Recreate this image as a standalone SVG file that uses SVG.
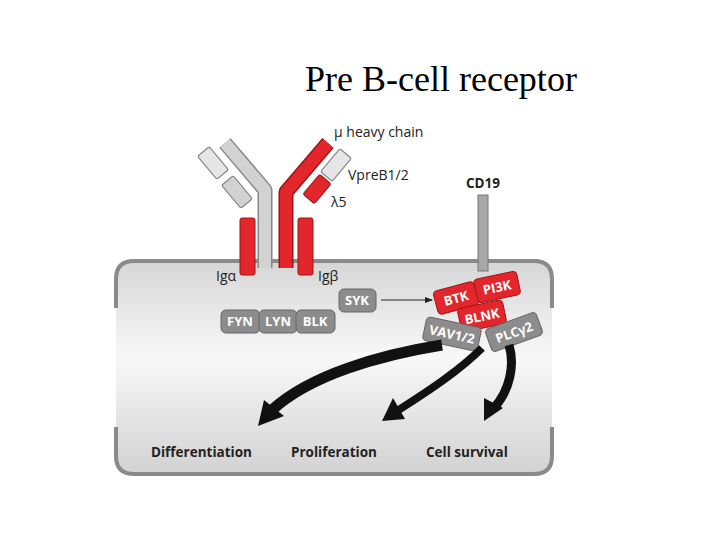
<svg xmlns="http://www.w3.org/2000/svg" width="720" height="540" viewBox="0 0 720 540">
<defs>
<linearGradient id="cg" x1="0" y1="0" x2="0" y2="1">
<stop offset="0" stop-color="#d6d6d6"/><stop offset="0.45" stop-color="#f8f8f8"/><stop offset="1" stop-color="#d2d2d2"/>
</linearGradient>
<marker id="ah" markerWidth="8" markerHeight="8" refX="7" refY="4" orient="auto" markerUnits="userSpaceOnUse"><path d="M0,1 L8,4 L0,7 Z" fill="#222"/></marker>
<style>
.lbl{font-family:"Open Sans","DejaVu Sans",sans-serif;font-size:14px;fill:#222}
.b{font-weight:bold;font-size:13.5px}
.box{fill:#8c8c8c;stroke:#666;stroke-width:1}
.red{fill:#e3262b;stroke:#a01518;stroke-width:1}
.lg{fill:#e6e6e6;stroke:#888;stroke-width:1.2}
.bt{font-family:"Open Sans","DejaVu Sans",sans-serif;font-size:13px;font-weight:bold;fill:#fff;text-anchor:middle}
.big{fill:none;stroke:#111;stroke-linecap:butt}
</style>
</defs>
<text x="305" y="91" font-family="Liberation Serif,serif" font-size="36" fill="#000">Pre B-cell receptor</text>
<g id="cell">
<rect x="116" y="261" width="436" height="213" rx="16" fill="url(#cg)"/>
<path d="M116,308 V279 Q116,261 134,261 H534 Q552,261 552,279 V308" fill="none" stroke="#8a8a8a" stroke-width="4"/>
<path d="M116,427 V456 Q116,474 134,474 H534 Q552,474 552,456 V427" fill="none" stroke="#8a8a8a" stroke-width="4"/>
</g>
<g id="antibody">
<path d="M225,143 L265,190 V268" fill="none" stroke="#888" stroke-width="15" stroke-linejoin="round"/>
<path d="M225,143 L265,190 V268" fill="none" stroke="#d2d2d2" stroke-width="12" stroke-linejoin="round"/>
<path d="M328,143 L286,192 V268" fill="none" stroke="#a01518" stroke-width="15" stroke-linejoin="round"/>
<path d="M328,143 L286,192 V268" fill="none" stroke="#e3262b" stroke-width="12" stroke-linejoin="round"/>
<rect x="-15" y="-7.5" width="30" height="15" rx="2" class="lg" transform="translate(213,163) rotate(50)"/>
<rect x="-15" y="-7.5" width="30" height="15" rx="2" class="lg" style="fill:#d2d2d2" transform="translate(237,192) rotate(50)"/>
<rect x="-15" y="-7.5" width="30" height="15" rx="2" class="lg" transform="translate(336,165) rotate(-50)"/>
<rect x="-13" y="-7.5" width="26" height="15" rx="2" class="red" transform="translate(317,189) rotate(-50)"/>
<rect x="240" y="218" width="15" height="57" rx="2" class="red"/>
<rect x="298" y="218" width="15" height="57" rx="2" class="red"/>
<text x="334" y="137" class="lbl">μ heavy chain</text>
<text x="348" y="180" class="lbl">VpreB1/2</text>
<text x="331" y="207" class="lbl">λ5</text>
<text x="216" y="281" class="lbl">Igα</text>
<text x="318" y="281" class="lbl">Igβ</text>
</g>
<g id="cd19">
<rect x="478" y="195" width="10" height="76" fill="#a8a8a8" stroke="#777"/>
<text x="466" y="188" class="lbl b">CD19</text>
</g>
<g id="kinases">
<rect x="221" y="310" width="39" height="23" rx="5" class="box"/>
<rect x="259" y="310" width="38" height="23" rx="5" class="box"/>
<rect x="296" y="310" width="39" height="23" rx="5" class="box"/>
<text x="240" y="326" class="bt">FYN</text><text x="278" y="326" class="bt">LYN</text><text x="315" y="326" class="bt">BLK</text>
</g>
<g id="syk"><rect x="339" y="289" width="37" height="23" rx="5" class="box"/><text x="357" y="305" class="bt">SYK</text></g>
<g id="complex">
<g transform="translate(497,287) rotate(-12)"><rect x="-22" y="-12" width="44" height="24" rx="4" class="red"/><text y="5" class="bt">PI3K</text></g>
<g transform="translate(456,298) rotate(-15)"><rect x="-21" y="-12" width="42" height="24" rx="4" class="red"/><text y="5" class="bt">BTK</text></g>
<g transform="translate(482,316) rotate(-12)"><rect x="-23" y="-12" width="46" height="24" rx="4" class="red"/><text y="5" class="bt">BLNK</text></g>
<g transform="translate(452,334) rotate(12)"><rect x="-28" y="-12" width="56" height="24" rx="4" class="box"/><text y="5" class="bt">VAV1/2</text></g>
<g transform="translate(514,332) rotate(-20)"><rect x="-27" y="-12" width="54" height="24" rx="4" class="box"/><text y="5" class="bt">PLCγ2</text></g>
</g>
<g id="connectors">
<line x1="381" y1="300" x2="432" y2="300" stroke="#222" stroke-width="1.2" marker-end="url(#ah)"/>
<path d="M442,345 C380,355 310,375 272,410" class="big" stroke-width="11"/>
<polygon points="258,426 264,400 284,416" fill="#111"/>
<path d="M482,348 C460,370 430,390 397,411" class="big" stroke-width="8"/>
<polygon points="382,421 393,398 405,419" fill="#111"/>
<path d="M509,345 C515,365 510,390 494,408" class="big" stroke-width="9"/>
<polygon points="484,421 484,398 503,408" fill="#111"/>
</g>
<g id="outcomes">
<text x="151" y="457" class="lbl b">Differentiation</text>
<text x="291" y="457" class="lbl b">Proliferation</text>
<text x="426" y="457" class="lbl b">Cell survival</text>
</g>
</svg>
